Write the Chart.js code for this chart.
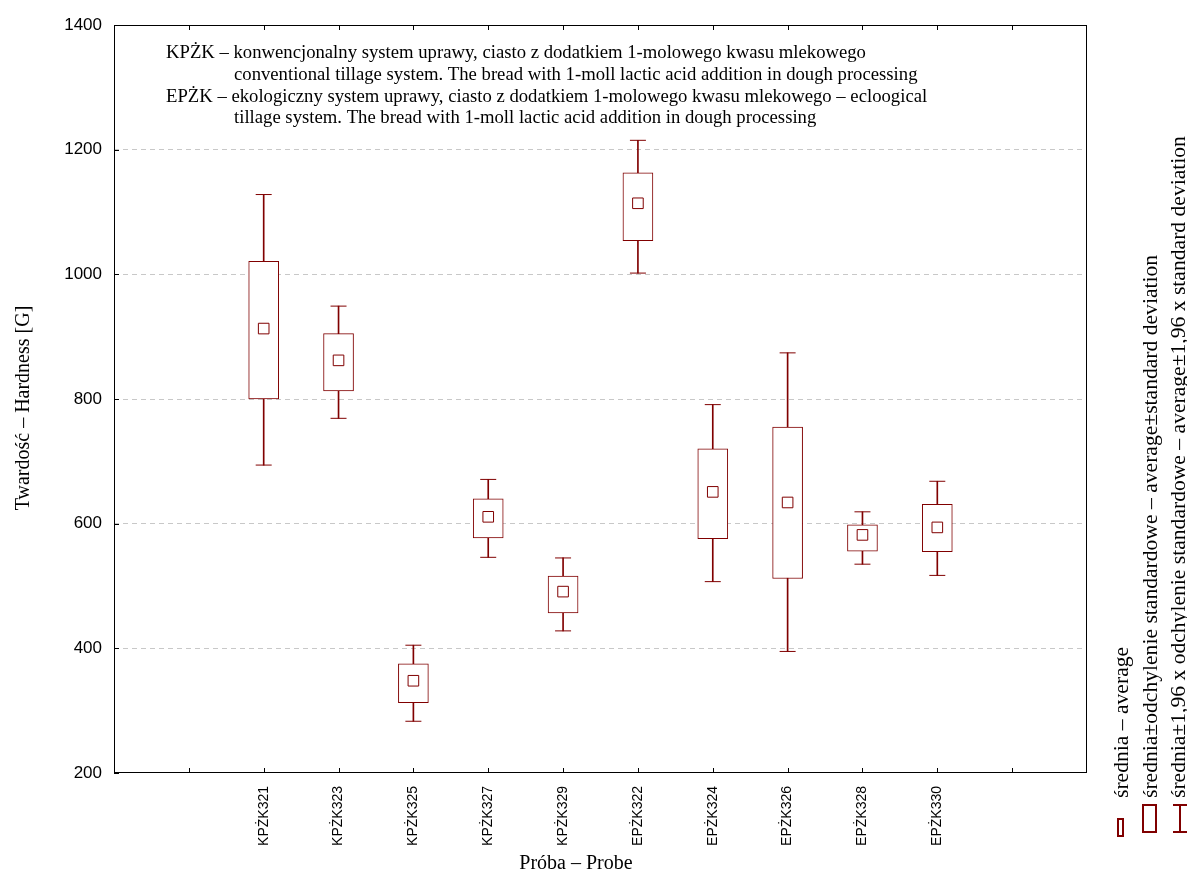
<!DOCTYPE html>
<html>
<head>
<meta charset="utf-8">
<script src="https://cdn.jsdelivr.net/npm/chart.js@4.4.1/dist/chart.umd.min.js"></script>
<style>
html, body { margin: 0; padding: 0; background: #fff; }
#wrap { width: 1187px; height: 877px; }
</style>
</head>
<body>
<div id="wrap"><canvas id="hardnessChart"></canvas></div>
<script>
// wartości (twardość [G])
const samples = ['KPŻK321', 'KPŻK323', 'KPŻK325', 'KPŻK327', 'KPŻK329',
                 'EPŻK322', 'EPŻK324', 'EPŻK326', 'EPŻK328', 'EPŻK330'];
const means  = [913, 862, 348, 611, 491, 1114, 651, 634, 582, 594];
const sdLow  = [800, 813, 313, 577, 457, 1054, 576, 512, 556, 555];
const sdHigh = [1021, 905, 375, 640, 516, 1163, 720, 755, 598, 631];
const ciLow  = [694, 769, 283, 546, 428, 1002, 507, 395, 535, 517];
const ciHigh = [1128, 949, 405, 671, 545, 1215, 791, 874, 619, 668];
const yTicks = [200, 400, 600, 800, 1000, 1200, 1400];

const noteLines = [
    'KPŻK – konwencjonalny system uprawy, ciasto z dodatkiem 1-molowego kwasu mlekowego',
    'conventional tillage system. The bread with 1-moll lactic acid addition in dough processing',
    'EPŻK – ekologiczny system uprawy, ciasto z dodatkiem 1-molowego kwasu mlekowego – ecloogical',
    'tillage system. The bread with 1-moll lactic acid addition in dough processing'
];
const legendTexts = [
    'średnia – average',
    'średnia±odchylenie standardowe – average±standard deviation',
    'średnia±1,96 x odchylenie standardowe – average±1,96 x standard deviation'
];

const maroon = '#800000';
const serif = '"Liberation Serif", "Times New Roman", serif';
const sans = '"Liberation Sans", Arial, sans-serif';

// pozycja kategorii na osi x (1 i 12 to puste miejsca)
const posOf = i => i + 2;

const decor = {
    id: 'decor',
    afterDraw(chart) {
        const { ctx, chartArea: a, scales: { x, y } } = chart;
        ctx.save();
        // ramka
        ctx.strokeStyle = '#000';
        ctx.lineWidth = 1;
        ctx.strokeRect(a.left + 0.5, a.top + 0.5, a.right - a.left - 1, a.bottom - a.top - 1);
        // znaczniki do środka
        ctx.beginPath();
        for (let v = 1; v <= 12; v++) {
            const px = Math.round(x.getPixelForValue(v)) + 0.5;
            ctx.moveTo(px, a.bottom); ctx.lineTo(px, a.bottom - 5);
            ctx.moveTo(px, a.top); ctx.lineTo(px, a.top + 5);
        }
        yTicks.forEach(v => {
            const py = Math.round(y.getPixelForValue(v)) + 0.5;
            ctx.moveTo(a.left, py); ctx.lineTo(a.left + 5, py);
        });
        ctx.stroke();

        // opis w polu wykresu
        ctx.fillStyle = '#000';
        ctx.font = '18.7px ' + serif;
        ctx.textBaseline = 'alphabetic';
        ctx.textAlign = 'left';
        const noteX = [166, 234, 166, 234];
        const noteY = [58, 80, 102, 123];
        noteLines.forEach((t, i) => ctx.fillText(t, noteX[i], noteY[i]));

        // tytuły osi
        ctx.font = '20px ' + serif;
        ctx.textAlign = 'center';
        ctx.fillText('Próba – Probe', 576, 869);
        ctx.save();
        ctx.translate(29, 408);
        ctx.rotate(-Math.PI / 2);
        ctx.fillText('Twardość – Hardness [G]', 0, 0);
        ctx.restore();

        // legenda (pionowo)
        ctx.font = '20px ' + serif;
        ctx.textAlign = 'left';
        const legX = [1128, 1157, 1185];
        legendTexts.forEach((t, i) => {
            ctx.save();
            ctx.translate(legX[i], 798);
            ctx.rotate(-Math.PI / 2);
            ctx.scale(1.08, 1);
            ctx.fillText(t, 0, 0);
            ctx.restore();
        });
        ctx.strokeStyle = maroon;
        ctx.lineWidth = 2;
        ctx.strokeRect(1118, 819, 5, 17);
        ctx.strokeRect(1143, 805, 13, 27);
        ctx.beginPath();
        ctx.moveTo(1173, 805); ctx.lineTo(1187, 805);
        ctx.moveTo(1173, 832); ctx.lineTo(1187, 832);
        ctx.moveTo(1180, 805); ctx.lineTo(1180, 832);
        ctx.stroke();
        ctx.restore();
    }
};

const ctx = document.getElementById('hardnessChart').getContext('2d');
new Chart(ctx, {
    type: 'bar',
    data: {
        datasets: [{
            label: 'whisker',
            data: samples.map((s, i) => ({ x: posOf(i), y: [ciLow[i], ciHigh[i]] })),
            backgroundColor: maroon,
            borderWidth: 0,
            barThickness: 1,
            grouped: false,
            order: 3
        }, {
            label: 'box',
            data: samples.map((s, i) => ({ x: posOf(i), y: [sdLow[i], sdHigh[i]] })),
            backgroundColor: '#fff',
            borderColor: maroon,
            borderWidth: 1,
            borderSkipped: false,
            barThickness: 30,
            grouped: false,
            order: 2
        }, {
            type: 'scatter',
            label: 'caps',
            data: samples.flatMap((s, i) => [
                { x: posOf(i), y: ciLow[i] },
                { x: posOf(i), y: ciHigh[i] }
            ]),
            pointStyle: 'line',
            radius: 8,
            borderColor: maroon,
            borderWidth: 1,
            order: 1
        }, {
            type: 'scatter',
            label: 'mean',
            data: samples.map((s, i) => ({ x: posOf(i), y: means[i] })),
            pointStyle: 'rect',
            radius: 7.5,
            backgroundColor: '#fff',
            borderColor: maroon,
            borderWidth: 1,
            order: 0
        }]
    },
    options: {
        responsive: true,
        maintainAspectRatio: false,
        animation: false,
        layout: { padding: { left: 0, right: 100, top: 25, bottom: 0 } },
        plugins: {
            legend: { display: false },
            tooltip: { enabled: false }
        },
        scales: {
            x: {
                type: 'linear',
                min: 0,
                max: 13,
                offset: false,
                afterFit: s => { s.height = 104; },
                afterBuildTicks: s => {
                    s.ticks = [];
                    for (let v = 0; v <= 13; v++) s.ticks.push({ value: v });
                },
                ticks: {
                    autoSkip: false,
                    minRotation: 90,
                    maxRotation: 90,
                    padding: 5,
                    color: '#000',
                    font: { family: sans, size: 14 },
                    callback: v => samples[v - 2] || ''
                },
                grid: { display: false, offset: false },
                border: { display: false }
            },
            y: {
                type: 'linear',
                min: 200,
                max: 1400,
                afterFit: s => { s.width = 114; },
                afterBuildTicks: s => { s.ticks = yTicks.map(v => ({ value: v })); },
                ticks: {
                    padding: 12,
                    color: '#000',
                    font: { family: sans, size: 17 },
                    callback: v => String(v)
                },
                grid: {
                    drawTicks: false,
                    color: c => (c.tick && c.tick.value > 200 && c.tick.value < 1400) ? '#c8c8c8' : 'transparent'
                },
                border: { display: false, dash: [5, 4] }
            }
        }
    },
    plugins: [decor]
});
</script>
</body>
</html>
